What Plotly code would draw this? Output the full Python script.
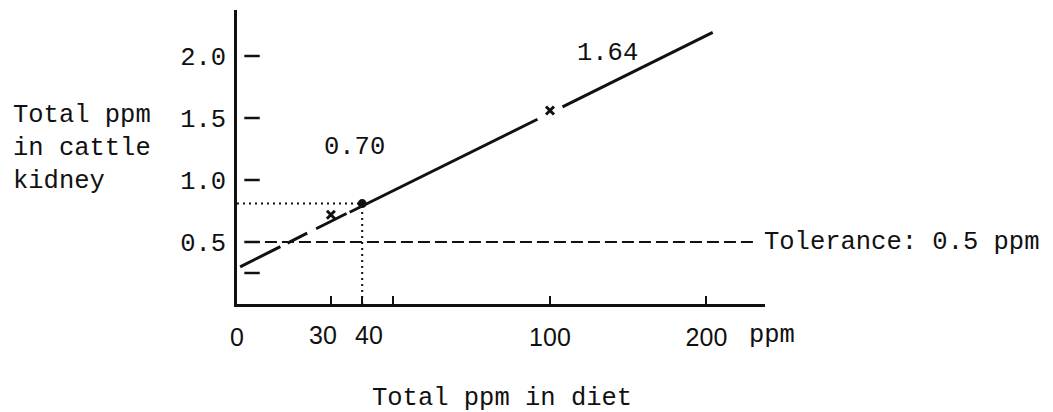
import plotly.graph_objects as go

# ---- data (x in axis units; the "200" label sits at the compressed position 150)
x_tickvals = [0, 30, 40, 50, 100, 150]
x_ticktext = ["0", "", "", "", "100", "200"]
x_close_vals = [30, 40]          # typed as "30 40", labelled separately so they do not collide
x_close_text = ["30", "40"]
x_close_shift = [-8, 7]
y_tickvals = [0.5, 1.0, 1.5, 2.0]
y_ticktext = ["0.5", "1.0", "1.5", "2.0"]
y_dash_ticks = [0.25, 0.5, 1.0, 1.5, 2.0]

line_dashed_x = [1, 35]
line_dashed_y = [0.30, 0.73]
line_solid_x = [36, 96, 104, 152]
line_solid_y = [0.74, 1.49, 1.59, 2.19]

cross_x = [30, 100]
cross_y = [0.72, 1.56]
dot_x = [40]
dot_y = [0.81]

tolerance = 0.5
tol_x = [3.5, 165.5]

FONT = "Liberation Mono"
XFONT = "Liberation Sans"
INK = "#111111"
FS = 25.5

fig = go.Figure()

# tolerance dashed line
fig.add_trace(go.Scatter(x=tol_x, y=[tolerance, tolerance], mode="lines",
                         line=dict(color=INK, width=2, dash="12px,5px"), hoverinfo="skip"))
# dotted guide lines to the 40 ppm point
fig.add_trace(go.Scatter(x=[0, dot_x[0]], y=[dot_y[0], dot_y[0]], mode="lines",
                         line=dict(color=INK, width=2, dash="2px,4px"), hoverinfo="skip"))
fig.add_trace(go.Scatter(x=[dot_x[0], dot_x[0]], y=[0, dot_y[0]], mode="lines",
                         line=dict(color=INK, width=2, dash="2px,4px"), hoverinfo="skip"))
# fitted line: dashed low part, solid above
fig.add_trace(go.Scatter(x=line_dashed_x, y=line_dashed_y, mode="lines",
                         line=dict(color=INK, width=3, dash="45px,8px,22px,10px"), hoverinfo="skip"))
fig.add_trace(go.Scatter(x=line_solid_x[:2], y=line_solid_y[:2], mode="lines",
                         line=dict(color=INK, width=3), hoverinfo="skip"))
fig.add_trace(go.Scatter(x=line_solid_x[2:], y=line_solid_y[2:], mode="lines",
                         line=dict(color=INK, width=3), hoverinfo="skip"))
# data markers
fig.add_trace(go.Scatter(x=cross_x, y=cross_y, mode="markers",
                         marker=dict(symbol="x-thin", size=8, line=dict(color=INK, width=3)),
                         hoverinfo="skip"))
fig.add_trace(go.Scatter(x=dot_x, y=dot_y, mode="markers",
                         marker=dict(symbol="circle", size=9, color=INK), hoverinfo="skip"))
# detached y tick dashes
fig.add_trace(go.Scatter(x=[4.8] * len(y_dash_ticks), y=y_dash_ticks, mode="markers",
                         marker=dict(symbol="line-ew", size=11, line=dict(color=INK, width=2.5)),
                         hoverinfo="skip"))

PLOT_W, PLOT_H = 528, 294

fig.update_layout(
    width=1053, height=412,
    margin=dict(l=237, r=288, t=10, b=108),
    paper_bgcolor="white", plot_bgcolor="white",
    showlegend=False,
    font=dict(family=FONT, size=FS, color=INK),
    xaxis=dict(range=[0, 168.7], showgrid=False, zeroline=False,
               showline=True, linecolor=INK, linewidth=2.5,
               tickmode="array", tickvals=x_tickvals, ticktext=x_ticktext,
               ticks="inside", ticklen=8, tickwidth=2, tickcolor=INK,
               tickangle=0, ticklabelstandoff=9,
               tickfont=dict(family=XFONT, size=25, color=INK)),
    yaxis=dict(range=[0, 2.371], showgrid=False, zeroline=False,
               showline=True, linecolor=INK, linewidth=2.5,
               tickmode="array", tickvals=y_tickvals, ticktext=y_ticktext,
               ticks="", ticklabelstandoff=3,
               tickfont=dict(family=FONT, size=FS, color=INK)),
)

ann = [
    dict(text="Total ppm<br>in cattle<br>kidney", xref="paper", yref="paper", x=-226 / PLOT_W,
         y=(304 - 148) / PLOT_H, xanchor="left", yanchor="middle", align="left", showarrow=False),
    dict(text="0.70", xref="x", yref="y", x=37.7, y=1.26, showarrow=False),
    dict(text="1.64", xref="x", yref="y", x=118.5, y=2.02, showarrow=False),
    dict(text="Tolerance: 0.5 ppm", xref="x", yref="y", x=167.7, y=tolerance,
         xanchor="left", showarrow=False),
    dict(text="ppm", xref="paper", yref="paper", x=(747 - 237) / PLOT_W, y=(304 - 335) / PLOT_H,
         xanchor="left", yanchor="middle", showarrow=False),
    dict(text="Total ppm in diet", xref="paper", yref="paper", x=(502 - 237) / PLOT_W,
         y=(304 - 398) / PLOT_H, xanchor="center", yanchor="middle", showarrow=False),
]
for a in ann:
    a["font"] = dict(family=FONT, size=FS, color=INK)
for v, t, s in zip(x_close_vals, x_close_text, x_close_shift):
    ann.append(dict(text=t, xref="x", yref="paper", x=v, y=(304 - 335) / PLOT_H, xshift=s,
                    xanchor="center", yanchor="middle", showarrow=False,
                    font=dict(family=XFONT, size=25, color=INK)))
fig.update_layout(annotations=ann)

fig.write_html("out.html", config={"displayModeBar": False},
               post_script="document.body.style.margin='0';")
